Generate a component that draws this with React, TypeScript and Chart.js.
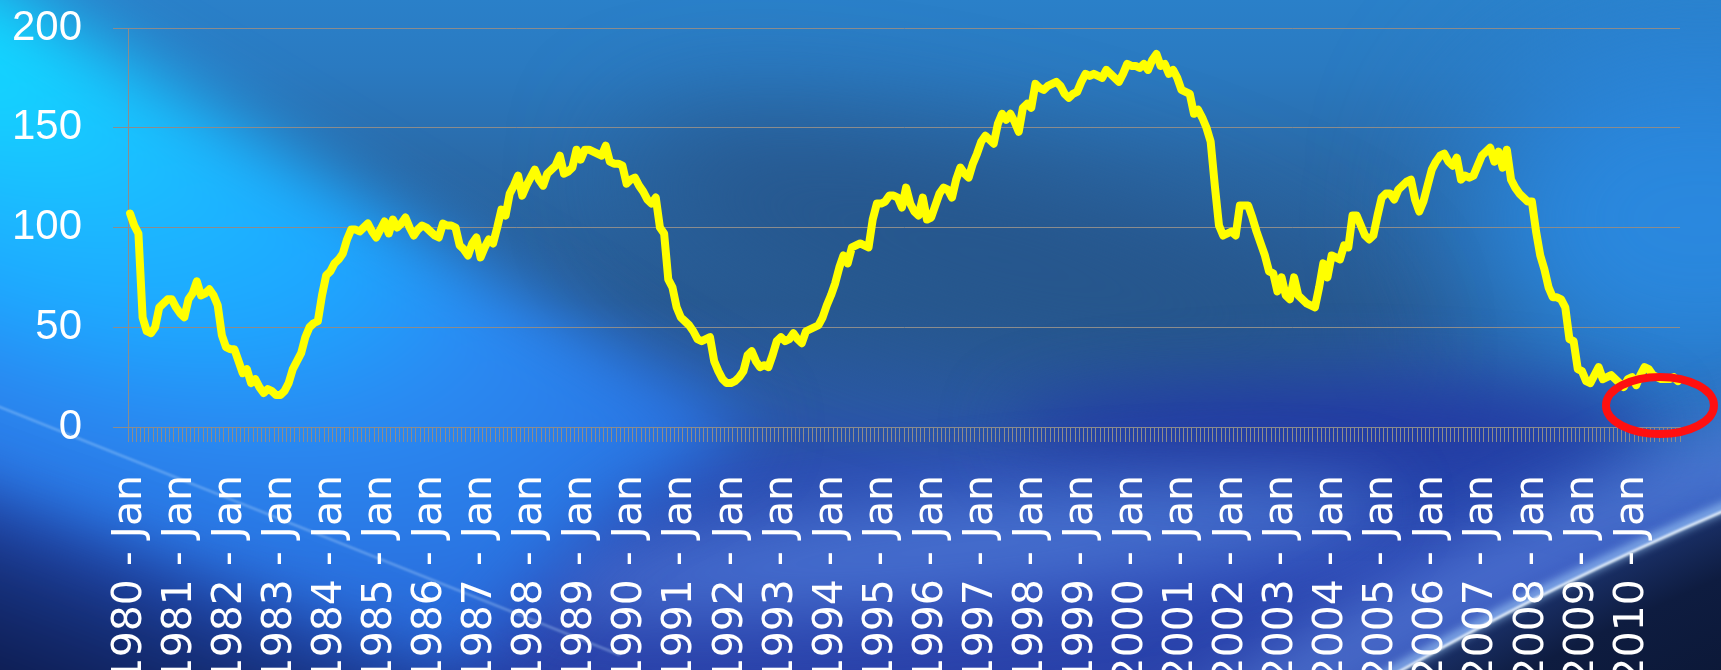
import React, { useEffect, useRef } from "react";
import { Chart, registerables } from "chart.js";

Chart.register(...registerables);

// ---------- data ----------
const FIRST_YEAR = 1980;
const LAST_YEAR = 2010;
const MONTHS = ["Jan", "Feb", "Mar", "Apr", "May", "Jun", "Jul", "Aug", "Sep", "Oct", "Nov", "Dec"];
const Y_TICKS = [0, 50, 100, 150, 200];

const VALUES_1980S = [
  107, 101, 97, 55, 48, 47, 50, 60, 62, 64, 64, 60,
  57, 55, 64, 67, 73, 66, 67, 69, 66, 61, 46, 40,
  39, 39, 33, 27, 29, 22, 24, 20, 17, 19, 18, 16,
  16, 18, 22, 29, 33, 37, 45, 50, 52, 53, 66, 76,
  78, 82, 84, 87, 94, 99, 99, 98, 100, 102, 98, 95,
  99, 103, 97, 104, 100, 102, 105, 100, 96, 99, 101, 100,
  98, 96, 95, 102, 101, 101, 100, 91, 89, 86, 92, 95,
  85, 90, 94, 92, 100, 109, 106, 117, 121, 126, 116, 121,
  125, 129, 124, 121, 127, 129, 131, 136, 127, 128, 130, 139,
  134, 139, 139, 138, 137, 136, 141, 133, 132, 132, 131, 122,
];
const VALUES_1990S = [
  124, 125, 121, 118, 114, 112, 115, 100, 97, 74, 70, 60,
  55, 53, 51, 48, 44, 43, 44, 45, 33, 28, 24, 22,
  22, 23, 25, 28, 36, 38, 33, 30, 31, 30, 36, 43,
  45, 43, 44, 47, 44, 42, 48, 49, 50, 51, 55, 61,
  66, 72, 80, 86, 82, 90, 91, 92, 91, 90, 104, 112,
  112, 113, 116, 116, 115, 110, 120, 112, 108, 106, 115, 104,
  105, 111, 117, 120, 119, 115, 124, 130, 127, 125, 132, 137,
  143, 146, 144, 142, 152, 157, 154, 157, 153, 148, 160, 162,
  160, 172, 170, 169, 171, 172, 173, 171, 167, 165, 167, 168,
  173, 177, 176, 177, 176, 175, 179, 177, 175, 173, 177, 182,
];
const VALUES_2000S = [
  181, 181, 180, 182, 179, 184, 187, 181, 182, 177, 179, 175,
  169, 168, 167, 157, 159, 155, 150, 143, 121, 101, 96, 97,
  98, 96, 111, 111, 111, 105, 98, 92, 86, 78, 77, 68,
  75, 66, 64, 75, 66, 64, 62, 61, 60, 70, 82, 75,
  86, 85, 84, 91, 90, 106, 106, 101, 96, 94, 96, 106,
  115, 117, 117, 114, 119, 121, 123, 124, 114, 108, 113, 121,
  129, 133, 136, 137, 133, 131, 135, 124, 126, 125, 126, 131,
  136, 138, 140, 133, 138, 130, 139, 124, 120, 117, 115, 113,
  113, 98, 86, 79, 70, 65, 65, 64, 60, 44, 43, 29,
  28, 23, 22, 26, 30, 24, 25, 26, 24, 22, 20, 24,
];
const VALUES_2010 = [25, 21, 26, 30, 29, 26, 25, 24, 24, 24, 25, 23];

// annotation (red ring) in data coordinates
const RING_CENTER_INDEX = 366.7;
const RING_CENTER_VALUE = 10.8;

// ---------- styles ----------
const LINE_COLOR = "#ffff00";
const GRID_COLOR = "#8c8c8c";
const TEXT_COLOR = "#ffffff";
const RING_COLOR = "#ff1010";
const W = 1721;
const H = 670;

function buildCategories(): string[] {
  const out: string[] = [];
  for (let y = FIRST_YEAR; y <= LAST_YEAR; y++) {
    for (const m of MONTHS) out.push(`${y} - ${m}`);
  }
  return out;
}

function paintBackground(ctx: CanvasRenderingContext2D) {
  const base = ctx.createLinearGradient(0, 0, 0, H);
  base.addColorStop(0, "#2a80c9");
  base.addColorStop(0.1, "#2a7ac1");
  base.addColorStop(0.25, "#2a69a7");
  base.addColorStop(0.45, "#285a93");
  base.addColorStop(0.6, "#2a58a4");
  base.addColorStop(0.7, "#2a4db0");
  base.addColorStop(0.85, "#2a46b2");
  base.addColorStop(1, "#2a42aa");
  ctx.fillStyle = base;
  ctx.fillRect(0, 0, W, H);

  const blob = (cx: number, cy: number, rx: number, ry: number, rot: number, color: string, blur: number) => {
    ctx.save();
    ctx.filter = `blur(${blur}px)`;
    ctx.fillStyle = color;
    ctx.beginPath();
    ctx.ellipse(cx, cy, rx, ry, rot, 0, Math.PI * 2);
    ctx.fill();
    ctx.restore();
  };

  blob(1700, 220, 240, 190, 0, "#2a88de", 70);
  blob(1000, 260, 380, 90, 0.25, "#26568c", 60);
  blob(1330, 432, 320, 45, 0, "#2238a2", 35);
  blob(960, 548, 430, 50, -0.1, "rgba(95,145,232,0.55)", 35);

  // cyan diagonal band (elliptical glow aligned with the band)
  ctx.save();
  ctx.filter = "blur(34px)";
  ctx.beginPath();
  ctx.moveTo(-200, -134);
  ctx.lineTo(760, 428);
  ctx.lineTo(600, 520);
  ctx.lineTo(420, 720);
  ctx.lineTo(-200, 720);
  ctx.closePath();
  ctx.translate(-100, 0);
  ctx.rotate(Math.atan(0.585));
  ctx.scale(1, 0.45);
  const band = ctx.createRadialGradient(0, 0, 0, 0, 0, 1000);
  band.addColorStop(0, "#10dcff");
  band.addColorStop(0.15, "#14d2ff");
  band.addColorStop(0.35, "#1cb8ff");
  band.addColorStop(0.52, "#1ea6ff");
  band.addColorStop(0.67, "#2a8af2");
  band.addColorStop(0.9, "#2a74e2");
  band.addColorStop(1, "#2a68d6");
  ctx.fillStyle = band;
  ctx.fill();
  ctx.restore();

  // dark lower-left
  ctx.save();
  ctx.filter = "blur(24px)";
  const dk = ctx.createLinearGradient(0, 470, -71, 657);
  dk.addColorStop(0, "rgba(30,60,150,0)");
  dk.addColorStop(0.25, "rgba(26,52,140,0.7)");
  dk.addColorStop(0.5, "#16307a");
  dk.addColorStop(1, "#0d1c50");
  ctx.fillStyle = dk;
  ctx.beginPath();
  ctx.moveTo(-60, 447);
  ctx.lineTo(720, 742);
  ctx.lineTo(-60, 742);
  ctx.closePath();
  ctx.fill();
  ctx.restore();

  // faint streak
  ctx.save();
  ctx.filter = "blur(1px)";
  ctx.strokeStyle = "rgba(200,230,255,0.4)";
  ctx.lineWidth = 2;
  ctx.beginPath();
  ctx.moveTo(-10, 403);
  ctx.lineTo(620, 655);
  ctx.stroke();
  ctx.restore();

  // planet horizon bottom-right
  const cx = 3000, cy = 3500, R = 3250;
  ctx.save();
  ctx.filter = "blur(30px)";
  ctx.strokeStyle = "rgba(110,160,240,0.45)";
  ctx.lineWidth = 80;
  ctx.beginPath();
  ctx.arc(cx, cy, R + 40, 0, Math.PI * 2);
  ctx.stroke();
  ctx.restore();

  ctx.save();
  const rg = ctx.createRadialGradient(cx, cy, R - 300, cx, cy, R);
  rg.addColorStop(0, "#08122a");
  rg.addColorStop(0.8, "#0e1c40");
  rg.addColorStop(1, "#1a3068");
  ctx.fillStyle = rg;
  ctx.beginPath();
  ctx.arc(cx, cy, R, 0, Math.PI * 2);
  ctx.fill();
  ctx.restore();

  ctx.save();
  ctx.filter = "blur(5px)";
  ctx.strokeStyle = "rgba(170,215,255,0.7)";
  ctx.lineWidth = 10;
  ctx.beginPath();
  ctx.arc(cx, cy, R + 3, 0, Math.PI * 2);
  ctx.stroke();
  ctx.restore();

  ctx.save();
  ctx.filter = "blur(0.8px)";
  ctx.strokeStyle = "#eef7ff";
  ctx.lineWidth = 2.5;
  ctx.beginPath();
  ctx.arc(cx, cy, R, 0, Math.PI * 2);
  ctx.stroke();
  ctx.restore();
}

const ringPlugin = {
  id: "redRing",
  afterDatasetsDraw(chart: any) {
    const { ctx, scales } = chart;
    const x = scales.x.getPixelForValue(RING_CENTER_INDEX);
    const y = scales.y.getPixelForValue(RING_CENTER_VALUE);
    ctx.save();
    ctx.strokeStyle = RING_COLOR;
    ctx.lineWidth = 8;
    ctx.beginPath();
    ctx.ellipse(x, y, 54, 28.5, 0, 0, Math.PI * 2);
    ctx.stroke();
    ctx.restore();
  },
};

export default function App() {
  const bgRef = useRef<HTMLCanvasElement>(null);
  const chartRef = useRef<HTMLCanvasElement>(null);

  useEffect(() => {
    document.body.style.margin = "0";
    const bg = bgRef.current!;
    const bctx = bg.getContext("2d")!;
    paintBackground(bctx);

    const categories = buildCategories();
    const values = [...VALUES_1980S, ...VALUES_1990S, ...VALUES_2000S, ...VALUES_2010];

    const chart = new Chart(chartRef.current!, {
      type: "line",
      data: {
        labels: categories,
        datasets: [
          {
            data: values,
            borderColor: LINE_COLOR,
            borderWidth: 8,
            pointRadius: 0,
            tension: 0,
            borderJoinStyle: "round",
            borderCapStyle: "round",
            fill: false,
          },
        ],
      },
      options: {
        responsive: false,
        animation: false,
        devicePixelRatio: 1,
        layout: { padding: { top: 28, right: 41, left: 0, bottom: 0 } },
        plugins: { legend: { display: false }, tooltip: { enabled: false } },
        scales: {
          x: {
            type: "category",
            offset: true,
            grid: {
              offset: true,
              drawOnChartArea: false,
              drawTicks: true,
              tickLength: 15,
              color: GRID_COLOR,
              lineWidth: 1,
            },
            border: { display: true, color: GRID_COLOR, width: 1 },
            ticks: {
              autoSkip: false,
              minRotation: 90,
              maxRotation: 90,
              padding: 33,
              color: TEXT_COLOR,
              font: { family: "'DejaVu Sans'", size: 41 },
              callback: (_v: any, i: number) => (categories[i].endsWith(MONTHS[0]) ? categories[i] : ""),
            },
            afterFit: (s: any) => {
              s.height = 243;
              s.paddingLeft = 0;
              s.paddingRight = 0;
            },
          },
          y: {
            min: Y_TICKS[0],
            max: Y_TICKS[Y_TICKS.length - 1],
            afterBuildTicks: (s: any) => {
              s.ticks = Y_TICKS.map((v) => ({ value: v }));
            },
            grid: { color: GRID_COLOR, lineWidth: 1, tickLength: 15, drawTicks: true },
            border: { display: true, color: GRID_COLOR, width: 1 },
            ticks: {
              padding: 31,
              color: TEXT_COLOR,
              font: { family: "'Liberation Sans'", size: 42 },
            },
            afterFit: (s: any) => {
              s.width = 128;
              s.paddingTop = 0;
              s.paddingBottom = 0;
            },
          },
        },
      },
      plugins: [ringPlugin],
    });
    return () => chart.destroy();
  }, []);

  return (
    <div style={{ position: "absolute", left: 0, top: 0, width: W, height: H, overflow: "hidden" }}>
      <canvas ref={bgRef} width={W} height={H} style={{ position: "absolute", left: 0, top: 0, width: W, height: H }} />
      <canvas ref={chartRef} width={W} height={H} style={{ position: "absolute", left: 0, top: 0, width: W, height: H }} />
    </div>
  );
}
